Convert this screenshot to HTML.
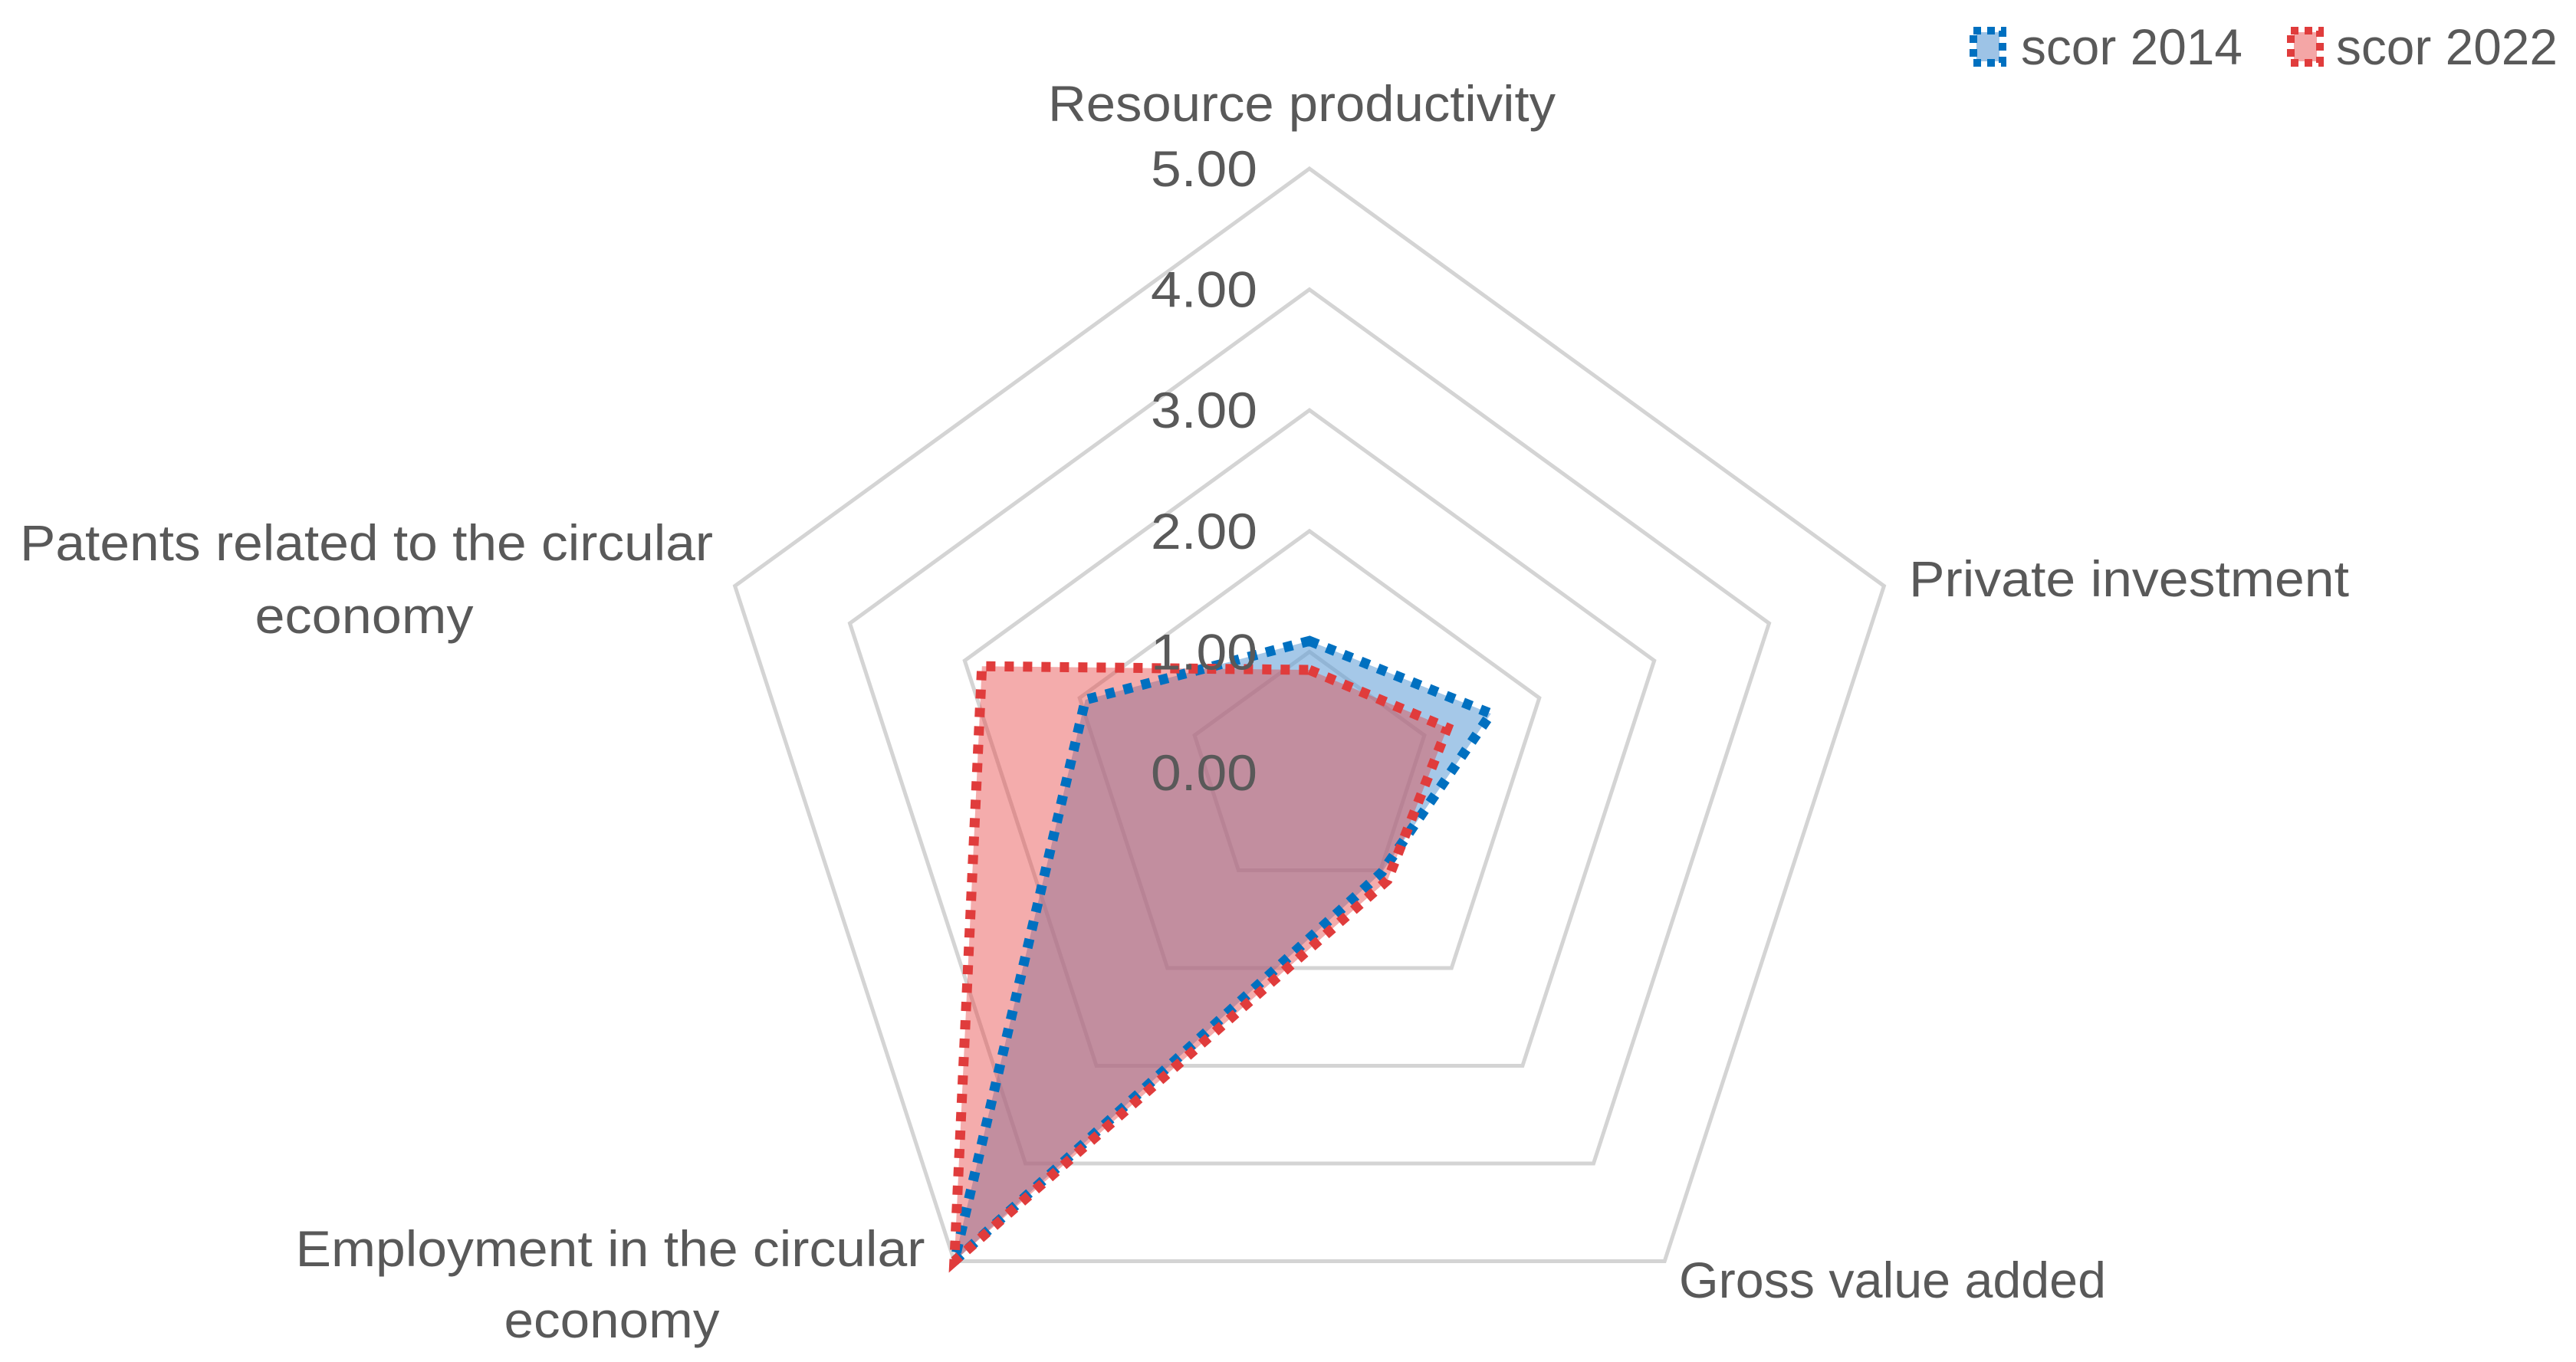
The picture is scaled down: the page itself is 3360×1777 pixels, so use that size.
<!DOCTYPE html>
<html><head><meta charset="utf-8"><style>
html,body{margin:0;padding:0;background:#fff}
svg{display:block;font-family:"Liberation Sans",sans-serif}
</style></head><body>
<svg id="chart" width="3360" height="1777" viewBox="0 0 3360 1777" xmlns="http://www.w3.org/2000/svg">
<g id="grid"></g>
<g id="series"></g>
<g id="ticks" font-size="66" fill="#595959" text-anchor="end"></g>
<g font-size="66" fill="#595959">
<text x="1698" y="158" text-anchor="middle" textLength="662" lengthAdjust="spacingAndGlyphs">Resource productivity</text>
<text x="2490" y="778" textLength="574" lengthAdjust="spacingAndGlyphs">Private investment</text>
<text x="2190" y="1693" textLength="557" lengthAdjust="spacingAndGlyphs">Gross value added</text>
<text x="796" y="1652" text-anchor="middle" textLength="821" lengthAdjust="spacingAndGlyphs">Employment in the circular</text>
<text x="798" y="1745" text-anchor="middle" textLength="281" lengthAdjust="spacingAndGlyphs">economy</text>
<text x="478" y="731" text-anchor="middle" textLength="904" lengthAdjust="spacingAndGlyphs">Patents related to the circular</text>
<text x="475" y="826" text-anchor="middle" textLength="285" lengthAdjust="spacingAndGlyphs">economy</text>
</g>
<g font-size="66" fill="#595959">
<g>
<rect x="2578" y="42" width="30" height="38" fill="#9dc3e6"/>
<rect x="2574" y="40" width="38" height="42" fill="none" stroke="#0070c0" stroke-width="10" stroke-dasharray="10 8"/>
<text x="2636" y="84" textLength="289" lengthAdjust="spacingAndGlyphs">scor 2014</text></g>
<g>
<rect x="2992" y="42" width="30" height="38" fill="#f4a6a6"/>
<rect x="2988" y="40" width="38" height="42" fill="none" stroke="#e03c3c" stroke-width="10" stroke-dasharray="10 8"/>
<text x="3047" y="84" textLength="289" lengthAdjust="spacingAndGlyphs">scor 2022</text></g>
</g>
</svg>
<script>
const categories = ["Resource productivity","Private investment","Gross value added","Employment in the circular economy","Patents related to the circular economy"];
const scor2014 = [1.09, 1.58, 1.02, 5.0, 1.95];
const scor2022 = [0.85, 1.2, 1.1, 5.0, 2.85];
const tickValues = [0,1,2,3,4,5];
const tickLabels = ["0.00","1.00","2.00","3.00","4.00","5.00"];
const CX=1708, CY=1008, R=788, MAX=5;
const NS="http://www.w3.org/2000/svg";
function pt(i,v){const a=2*Math.PI*i/categories.length;const r=v/MAX*R;return [CX+r*Math.sin(a), CY-r*Math.cos(a)];}
function poly(vals){return vals.map((v,i)=>pt(i,v).map(n=>n.toFixed(1)).join(",")).join(" ");}
const grid=document.getElementById('grid');
tickValues.forEach((t,k)=>{ if(t===0) return;
  const p=document.createElementNS(NS,'polygon');
  
  
  p.setAttribute('points',poly(categories.map(()=>t)));
  p.setAttribute('fill','none');p.setAttribute('stroke','#d4d4d4');p.setAttribute('stroke-width','5');
  grid.appendChild(p);
});
const ticks=document.getElementById('ticks');
tickValues.forEach((t,k)=>{
  const y=pt(0,t)[1];
  const tx=document.createElementNS(NS,'text');
  
  
  tx.setAttribute('x',CX-68);tx.setAttribute('y',y+23);
  tx.setAttribute('textLength','139');tx.setAttribute('lengthAdjust','spacingAndGlyphs');
  tx.textContent=tickLabels[k];ticks.appendChild(tx);
});
const ser=document.getElementById('series');
[[scor2014,'rgba(91,155,213,0.55)','series-2014'],[scor2022,'rgba(230,70,70,0.45)','series-2022']].forEach(s=>{
  const f=document.createElementNS(NS,'polygon');
  
  
  f.setAttribute('points',poly(s[0]));f.setAttribute('fill',s[1]);
  ser.appendChild(f);
});
[[scor2014,'#0070c0','series-2014'],[scor2022,'#e03c3c','series-2022']].forEach(s=>{
  const l=document.createElementNS(NS,'polygon');
  
  
  l.setAttribute('points',poly(s[0]));l.setAttribute('fill','none');
  l.setAttribute('stroke',s[1]);l.setAttribute('stroke-width','13');l.setAttribute('stroke-dasharray','12 12');
  ser.appendChild(l);
});
</script>
</body></html>
